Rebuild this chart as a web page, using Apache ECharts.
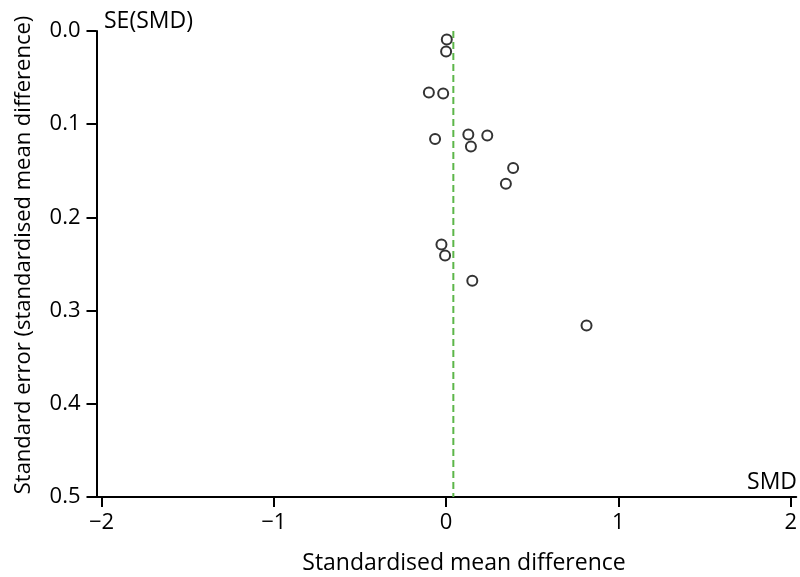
<!DOCTYPE html>
<html>
<head>
<meta charset="utf-8">
<script src="https://cdn.jsdelivr.net/npm/echarts@6/dist/echarts.min.js"></script>
<style>html,body{margin:0;padding:0;background:#fff}#c{width:800px;height:577px}</style>
</head>
<body>
<div id="c"></div>
<script>
var smd = [0.004, 0.000, -0.100, -0.017, -0.064, 0.129, 0.239, 0.144, 0.389, 0.347, -0.027, -0.006, 0.152, 0.815];
var se  = [0.009, 0.022, 0.066, 0.067, 0.116, 0.111, 0.112, 0.124, 0.147, 0.164, 0.229, 0.241, 0.268, 0.316];
var pooled = 0.042;
var xTicks = [-2, -1, 0, 1, 2];
var yTicks = [0.0, 0.1, 0.2, 0.3, 0.4, 0.5];

var FONT = 'Open Sans';
var pts = smd.map(function (v, i) { return [v, se[i]]; });
var chart = echarts.init(document.getElementById('c'), null, {renderer: 'canvas'});
chart.setOption({
  animation: false,
  backgroundColor: '#fff',
  textStyle: {fontFamily: FONT},
  grid: {left: 96.5, right: 0.5, top: 31, bottom: 80},
  xAxis: {
    type: 'value', min: -2.029, max: 2.032,
    axisLine: {onZero: false, lineStyle: {color: '#000', width: 2}},
    axisTick: {length: 10, customValues: xTicks, lineStyle: {color: '#000', width: 2}},
    axisLabel: {color: '#000', fontSize: 22, fontFamily: FONT, margin: 15, customValues: xTicks,
      formatter: function (v) { return v < 0 ? '\u2212' + Math.abs(v) : String(v); }},
    splitLine: {show: false}
  },
  yAxis: {
    type: 'value', inverse: true, min: yTicks[0], max: yTicks[yTicks.length - 1], interval: 0.1,
    axisLine: {onZero: false, lineStyle: {color: '#000', width: 2}},
    axisTick: {show: true, length: 10, lineStyle: {color: '#000', width: 2}},
    axisLabel: {color: '#000', fontSize: 22, fontFamily: FONT, margin: 16,
      formatter: function (v) { return v.toFixed(1); }},
    splitLine: {show: false}
  },
  graphic: [
    {type: 'text', x: 104, y: 21, style: {text: 'SE(SMD)', font: '23px "Open Sans"', fill: '#000', align: 'left', verticalAlign: 'middle'}},
    {type: 'text', x: 797, y: 482, style: {text: 'SMD', font: '23px "Open Sans"', fill: '#000', align: 'right', verticalAlign: 'middle'}},
    {type: 'text', x: 24, y: 255, rotation: Math.PI / 2,
      style: {text: 'Standard error (standardised mean difference)', font: '22px "Open Sans"', fill: '#000', align: 'center', verticalAlign: 'middle'}},
    {type: 'text', x: 464, y: 563,
      style: {text: 'Standardised mean difference', font: '23px "Open Sans"', fill: '#000', align: 'center', verticalAlign: 'middle'}}
  ],
  series: [
    {
      type: 'line', data: [[pooled, yTicks[0]], [pooled, yTicks[yTicks.length - 1]]],
      symbol: 'none', silent: true, z: 1,
      lineStyle: {color: '#5cb649', width: 2, type: [7, 4]}
    },
    {
      type: 'scatter', data: pts, symbol: 'circle', symbolSize: 10, z: 3,
      itemStyle: {color: '#fff', borderColor: '#000', borderWidth: 2}
    }
  ]
});
</script>
</body>
</html>
